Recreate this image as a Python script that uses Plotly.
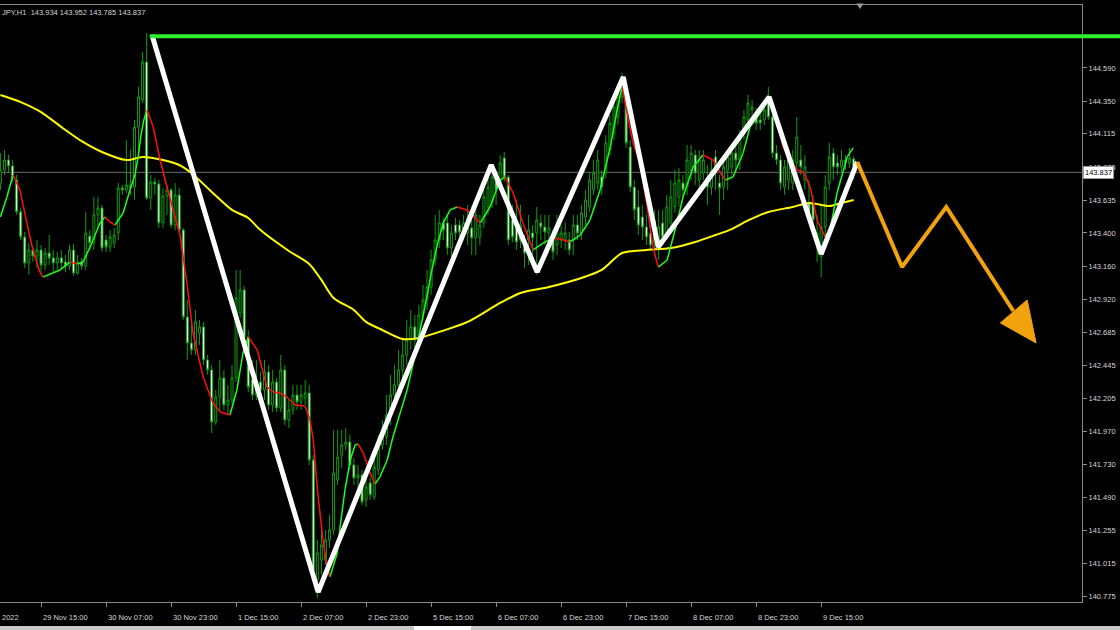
import plotly.graph_objects as go

symbol_text = "JPY,H1  143.934 143.952 143.785 143.837"

opens = [
    143.760, 143.854, 143.926, 143.883, 143.782, 143.552, 143.371, 143.183, 143.277, 143.234,
    143.277, 143.169, 143.255, 143.220, 143.183, 143.220, 143.191, 143.162, 143.277, 143.111,
    143.191, 143.162, 143.378, 143.327, 143.530, 143.580, 143.349, 143.299, 143.327, 143.400,
    143.724, 143.710, 143.724, 143.731, 144.164, 144.359, 144.633, 143.652, 143.768, 143.753,
    143.472, 143.666, 143.710, 143.457, 143.674, 143.421, 142.794, 142.606, 142.556, 142.678,
    142.722, 142.484, 142.412, 142.036, 142.217, 142.354, 142.159, 142.195, 142.354, 142.823,
    142.989, 142.650, 142.340, 142.231, 142.325, 142.267, 142.397, 142.159, 142.325, 142.137,
    142.412, 142.051, 142.123, 142.231, 142.181, 142.210, 142.246, 141.762, 140.897, 141.041,
    141.041, 141.186, 141.258, 141.618, 141.798, 141.870, 141.892, 141.726, 141.633, 141.654,
    141.474, 141.597, 141.496, 141.690, 141.870, 141.928, 142.087, 142.231, 142.304, 142.412,
    142.520, 142.628, 142.722, 142.628, 142.808, 142.916, 143.010, 143.205, 143.349, 143.472,
    143.472, 143.291, 143.457, 143.457, 143.421, 143.400, 143.436, 143.364, 143.371, 143.472,
    143.587, 143.623, 143.803, 143.760, 143.940, 143.803, 143.493, 143.493, 143.349, 143.299,
    143.349, 143.400, 143.400, 143.472, 143.443, 143.400, 143.371, 143.313, 143.349, 143.349,
    143.349, 143.349, 143.457, 143.400, 143.515, 143.587, 143.710, 143.760, 143.803, 143.832,
    143.998, 144.121, 144.236, 144.381, 144.431, 144.020, 143.731, 143.587, 143.515, 143.443,
    143.400, 143.327, 143.313, 143.472, 143.400, 143.472, 143.587, 143.660, 143.760, 143.731,
    143.854, 143.962, 143.782, 143.832, 143.803, 143.731, 143.948, 143.760, 143.731, 143.854,
    143.876, 143.976, 143.926, 144.121, 144.215, 144.287, 144.236, 144.215, 144.215, 144.381,
    144.236, 143.976, 143.926, 143.731, 143.782, 143.760, 143.904, 143.926, 143.782, 143.616,
    143.616, 143.327, 143.227, 143.443, 143.760, 143.976, 143.904, 143.876, 143.926, 143.904,
    143.934,
]

highs = [
    143.976, 143.998, 143.962, 143.926, 143.818, 143.580, 143.407, 143.327, 143.299, 143.349,
    143.313, 143.291, 143.385, 143.277, 143.263, 143.277, 143.241, 143.313, 143.320, 143.241,
    143.220, 143.552, 143.421, 143.660, 143.660, 143.602, 143.385, 143.421, 143.436, 143.760,
    143.746, 144.070, 143.998, 144.215, 144.453, 144.705, 144.842, 143.818, 143.796, 143.782,
    143.724, 143.746, 143.724, 143.760, 143.724, 143.436, 142.916, 142.787, 142.844, 142.772,
    142.758, 142.520, 142.448, 142.267, 142.484, 142.412, 142.304, 142.448, 143.133, 143.133,
    143.018, 142.700, 142.484, 142.484, 142.397, 142.484, 142.448, 142.412, 142.354, 142.520,
    142.448, 142.195, 142.304, 142.304, 142.304, 142.340, 142.304, 141.798, 141.186, 141.258,
    141.258, 141.366, 141.979, 141.979, 141.979, 141.993, 141.943, 141.777, 141.726, 141.690,
    141.633, 141.633, 141.798, 141.943, 142.051, 142.231, 142.376, 142.448, 142.556, 142.628,
    142.772, 142.844, 142.808, 142.880, 143.025, 143.133, 143.277, 143.530, 143.566, 143.508,
    143.530, 143.457, 143.508, 143.493, 143.530, 143.602, 143.493, 143.602, 143.530, 143.710,
    143.796, 143.890, 143.854, 143.962, 143.984, 143.818, 143.602, 143.638, 143.602, 143.385,
    143.530, 143.457, 143.587, 143.530, 143.530, 143.530, 143.421, 143.530, 143.457, 143.479,
    143.407, 143.530, 143.530, 143.602, 143.710, 143.840, 143.926, 143.998, 143.854, 144.106,
    144.251, 144.381, 144.467, 144.553, 144.467, 144.070, 143.782, 143.710, 143.602, 143.530,
    143.457, 143.566, 143.566, 143.566, 143.674, 143.782, 143.854, 143.868, 143.818, 144.034,
    144.034, 143.998, 143.998, 143.998, 143.890, 143.926, 143.998, 143.818, 143.926, 143.998,
    144.034, 144.034, 144.142, 144.287, 144.395, 144.359, 144.301, 144.287, 144.359, 144.453,
    144.272, 144.034, 143.962, 143.926, 143.998, 143.998, 144.236, 144.034, 143.962, 143.782,
    143.674, 143.530, 143.602, 143.818, 144.049, 144.013, 143.962, 143.998, 143.962, 144.013,
    143.952,
]

lows = [
    143.710, 143.818, 143.840, 143.768, 143.530, 143.349, 143.147, 143.097, 143.191, 143.147,
    143.119, 143.133, 143.169, 143.119, 143.133, 143.147, 143.119, 143.133, 143.090, 143.097,
    143.133, 143.133, 143.277, 143.277, 143.443, 143.263, 143.263, 143.263, 143.291, 143.349,
    143.674, 143.688, 143.674, 143.638, 143.948, 144.337, 143.638, 143.566, 143.674, 143.436,
    143.436, 143.530, 143.436, 143.421, 143.407, 142.772, 142.484, 142.520, 142.520, 142.592,
    142.448, 142.376, 141.957, 142.015, 142.123, 142.123, 142.087, 142.159, 142.325, 142.787,
    142.628, 142.253, 142.195, 142.195, 142.210, 142.195, 142.123, 142.109, 142.109, 142.109,
    142.015, 141.993, 142.087, 142.123, 142.123, 142.159, 141.726, 140.897, 140.767, 140.933,
    141.005, 141.128, 141.222, 141.582, 141.705, 141.835, 141.690, 141.582, 141.546, 141.438,
    141.424, 141.474, 141.474, 141.654, 141.835, 141.870, 142.015, 142.159, 142.253, 142.304,
    142.448, 142.556, 142.556, 142.592, 142.772, 142.844, 142.953, 143.169, 143.291, 143.349,
    143.241, 143.220, 143.349, 143.364, 143.349, 143.313, 143.241, 143.241, 143.313, 143.436,
    143.530, 143.580, 143.602, 143.710, 143.768, 143.313, 143.335, 143.277, 143.291, 143.147,
    143.169, 143.220, 143.097, 143.349, 143.313, 143.313, 143.205, 143.241, 143.291, 143.277,
    143.241, 143.241, 143.349, 143.349, 143.457, 143.552, 143.674, 143.710, 143.674, 143.796,
    143.962, 144.070, 144.178, 144.337, 144.013, 143.696, 143.493, 143.385, 143.349, 143.313,
    143.277, 143.277, 143.205, 143.313, 143.349, 143.421, 143.544, 143.587, 143.660, 143.674,
    143.782, 143.746, 143.674, 143.782, 143.602, 143.674, 143.710, 143.530, 143.638, 143.710,
    143.818, 143.840, 143.854, 144.070, 144.178, 144.215, 144.142, 144.142, 144.178, 144.215,
    143.940, 143.890, 143.710, 143.674, 143.710, 143.710, 143.868, 143.818, 143.710, 143.493,
    143.385, 143.191, 143.082, 143.385, 143.710, 143.782, 143.818, 143.840, 143.854, 143.868,
    143.785,
]

closes = [
    143.854, 143.926, 143.883, 143.796, 143.552, 143.371, 143.183, 143.277, 143.234, 143.277,
    143.169, 143.255, 143.220, 143.183, 143.220, 143.183, 143.162, 143.277, 143.111, 143.191,
    143.162, 143.400, 143.327, 143.530, 143.580, 143.291, 143.299, 143.371, 143.385, 143.724,
    143.710, 143.746, 143.746, 144.164, 144.381, 144.633, 143.652, 143.768, 143.753, 143.472,
    143.666, 143.710, 143.457, 143.674, 143.421, 142.794, 142.606, 142.556, 142.758, 142.722,
    142.484, 142.412, 142.036, 142.217, 142.354, 142.159, 142.195, 142.354, 142.931, 142.989,
    142.650, 142.289, 142.231, 142.325, 142.267, 142.397, 142.159, 142.325, 142.137, 142.412,
    142.051, 142.123, 142.231, 142.181, 142.231, 142.246, 141.762, 140.969, 141.092, 141.150,
    141.186, 141.258, 141.669, 141.784, 141.870, 141.892, 141.726, 141.633, 141.654, 141.460,
    141.568, 141.510, 141.712, 141.849, 141.928, 142.087, 142.231, 142.304, 142.412, 142.520,
    142.628, 142.722, 142.628, 142.808, 142.916, 143.010, 143.205, 143.349, 143.472, 143.421,
    143.291, 143.400, 143.400, 143.407, 143.472, 143.508, 143.364, 143.530, 143.457, 143.660,
    143.731, 143.803, 143.710, 143.904, 143.803, 143.349, 143.371, 143.335, 143.457, 143.255,
    143.421, 143.364, 143.493, 143.443, 143.407, 143.436, 143.263, 143.421, 143.400, 143.400,
    143.277, 143.457, 143.400, 143.544, 143.638, 143.782, 143.832, 143.926, 143.731, 144.049,
    144.193, 144.308, 144.410, 144.503, 144.049, 143.731, 143.566, 143.457, 143.443, 143.371,
    143.313, 143.493, 143.443, 143.371, 143.587, 143.660, 143.760, 143.782, 143.710, 143.926,
    143.976, 143.832, 143.926, 143.926, 143.731, 143.854, 143.832, 143.724, 143.876, 143.948,
    143.976, 143.926, 144.106, 144.236, 144.337, 144.308, 144.193, 144.193, 144.287, 144.236,
    143.976, 143.926, 143.760, 143.876, 143.926, 143.926, 144.092, 143.876, 143.876, 143.544,
    143.493, 143.400, 143.443, 143.731, 143.948, 143.876, 143.876, 143.926, 143.904, 143.940,
    143.837,
]

bar_index = list(range(len(closes)))

# x-axis labels (every 16 hourly bars)
tick_bars = [10, 26, 42, 58, 74, 90, 106, 122, 138, 154, 170, 186, 202]
tick_labels = ["29 Nov 15:00", "30 Nov 07:00", "30 Nov 23:00", "1 Dec 15:00",
               "2 Dec 07:00", "2 Dec 23:00", "5 Dec 15:00", "6 Dec 07:00",
               "6 Dec 23:00", "7 Dec 15:00", "8 Dec 07:00", "8 Dec 23:00",
               "9 Dec 15:00"]

price_ticks = [144.590, 144.350, 144.115, 143.875, 143.635, 143.400, 143.160,
               142.920, 142.685, 142.445, 142.205, 141.970, 141.730, 141.490,
               141.255, 141.015, 140.775]
price_labels = ["144.590", "144.350", "144.115", "143.875", "143.635", "143.400",
                "143.160", "142.920", "142.685", "142.445", "142.205", "141.970",
                "141.730", "141.490", "141.255", "141.015", "140.775"]

# slow moving average (yellow)
slow_idx = [0, 5, 10, 15, 20, 25, 31, 35, 40, 44, 47, 52, 57, 61, 64, 71, 76, 79, 82,
            87, 90, 94, 99, 103, 108, 115, 123, 128, 135, 143, 148, 153, 159, 165,
            171, 176, 180, 184, 189, 195, 199, 204, 207, 210]
slow_price = [144.395, 144.344, 144.272, 144.164, 144.062, 143.984, 143.926, 143.948,
              143.926, 143.890, 143.832, 143.696, 143.566, 143.508, 143.421, 143.270,
              143.176, 143.061, 142.931, 142.844, 142.758, 142.700, 142.635, 142.642,
              142.686, 142.758, 142.895, 142.967, 143.010, 143.075, 143.133, 143.255,
              143.277, 143.291, 143.335, 143.385, 143.428, 143.490, 143.551, 143.587,
              143.616, 143.594, 143.616, 143.638]

# fast smoothed average (green when rising, red when falling)
fast_idx = [0.0, 1.6, 3.1, 4.8, 6.5, 8.0, 9.7, 10.5, 12.9, 14.7, 17.1, 18.9, 20.3,
            22.1, 24.5, 25.7, 27.0, 28.2, 30.2, 31.9, 33.1, 33.9, 34.6, 35.3, 36.1,
            37.6, 39.3, 41.0, 42.5, 44.2, 45.9, 47.4, 49.9, 52.3, 54.1, 56.5, 58.2,
            59.7, 61.0, 63.2, 65.6, 67.1, 68.8, 70.5, 72.5, 75.0, 76.2, 77.0, 78.2,
            79.4, 80.4, 81.1, 82.9, 83.6, 84.8, 86.1, 87.3, 88.0, 89.3, 91.0, 92.2,
            93.4, 95.2, 96.6, 98.4, 100.1, 101.8, 103.3, 104.8, 106.2, 107.5, 109.0,
            110.7, 112.4, 114.9, 118.1, 120.5, 123.0, 124.2, 126.2, 128.6, 131.1,
            133.6, 136.0, 137.7, 140.2, 142.7, 145.1, 147.6, 150.1, 151.8, 153.0,
            155.7, 157.4, 159.2, 160.6, 161.9, 164.1, 166.5, 168.0, 170.5, 172.9,
            175.4, 177.9, 178.4, 180.3, 182.8, 184.5, 187.0, 189.0, 191.2, 192.6,
            194.4, 196.1, 197.6, 199.3, 201.0, 203.0, 204.2, 205.9, 208.4, 209.9]
fast_price = [143.515, 143.659, 143.818, 143.710, 143.472, 143.277, 143.118, 143.082,
              143.111, 143.133, 143.190, 143.176, 143.190, 143.299, 143.472, 143.515,
              143.479, 143.457, 143.544, 143.710, 143.818, 143.948, 144.106, 144.215,
              144.287, 144.164, 143.926, 143.731, 143.566, 143.385, 143.039, 142.678,
              142.361, 142.174, 142.109, 142.087, 142.267, 142.534, 142.650, 142.556,
              142.289, 142.253, 142.246, 142.217, 142.159, 142.152, 142.051, 141.907,
              141.496, 141.186, 140.991, 140.919, 141.092, 141.279, 141.546, 141.762,
              141.871, 141.878, 141.813, 141.669, 141.589, 141.640, 141.762, 141.928,
              142.102, 142.267, 142.484, 142.700, 142.916, 143.133, 143.313, 143.472,
              143.566, 143.587, 143.566, 143.472, 143.587, 143.782, 143.803, 143.688,
              143.472, 143.277, 143.327, 143.364, 143.356, 143.335, 143.385, 143.493,
              143.710, 144.020, 144.287, 144.453, 144.049, 143.904, 143.587, 143.299,
              143.154, 143.205, 143.472, 143.659, 143.876, 143.962, 143.926, 143.803,
              143.782, 143.803, 143.977, 144.164, 144.265, 144.359, 144.215, 144.020,
              143.926, 143.854, 143.840, 143.731, 143.493, 143.371, 143.421, 143.688,
              143.948, 144.013]

# hand-drawn zigzag (white) and projected path (orange)
zz_idx = [37.3, 78.2, 120.8, 132.1, 153.3, 161.9, 189.2, 202.0, 210.9]
zz_price = [144.828, 140.810, 143.890, 143.118, 144.525, 143.299, 144.380, 143.248, 143.912]
proj_idx = [210.9, 221.9, 232.8, 249.3]
proj_price = [143.912, 143.154, 143.587, 142.837]
head_idx = [246.1, 252.7, 254.9, 246.1]
head_price = [142.751, 142.916, 142.606, 142.751]

resistance_price = 144.818
resistance_start = 36.8
last_price = 143.837

X_RANGE = [-0.1, 266.2]
Y_RANGE = [140.738, 145.044]

CANDLE_GREEN = "#139a13"
FONT = "Liberation Sans"
TXT = "#d6d6d6"
AXIS = "#8a8a8a"

fig = go.Figure()

fig.add_trace(go.Candlestick(
    x=bar_index, open=opens, high=highs, low=lows, close=closes,
    increasing=dict(line=dict(color=CANDLE_GREEN, width=1), fillcolor="black"),
    decreasing=dict(line=dict(color=CANDLE_GREEN, width=1), fillcolor="white"),
    whiskerwidth=0, hoverinfo="skip",
))

fig.add_trace(go.Scatter(
    x=slow_idx, y=slow_price, mode="lines",
    line=dict(color="#ffff00", width=2, shape="spline", smoothing=0.8),
    hoverinfo="skip",
))

gx, gy, rx, ry = [], [], [], []
for k in range(len(fast_idx) - 1):
    sx = [fast_idx[k], fast_idx[k + 1], None]
    sy = [fast_price[k], fast_price[k + 1], None]
    if fast_price[k + 1] >= fast_price[k]:
        gx += sx
        gy += sy
    else:
        rx += sx
        ry += sy

fig.add_trace(go.Scatter(x=gx, y=gy, mode="lines",
                         line=dict(color="#1aff1a", width=1.5), hoverinfo="skip"))
fig.add_trace(go.Scatter(x=rx, y=ry, mode="lines",
                         line=dict(color="#ff1010", width=1.5), hoverinfo="skip"))

fig.add_trace(go.Scatter(x=zz_idx, y=zz_price, mode="lines",
                         line=dict(color="white", width=5), hoverinfo="skip"))
fig.add_trace(go.Scatter(x=proj_idx, y=proj_price, mode="lines",
                         line=dict(color="#f2a20c", width=4), hoverinfo="skip"))
fig.add_trace(go.Scatter(x=head_idx, y=head_price, mode="lines", fill="toself",
                         fillcolor="#f2a20c", line=dict(color="#f2a20c", width=1),
                         hoverinfo="skip"))

shapes = [
    # current price line
    dict(type="line", xref="paper", yref="y", x0=0, x1=1, y0=last_price, y1=last_price,
         line=dict(color="#6a6a6a", width=1), layer="below"),
    # resistance line inside the plot
    dict(type="line", xref="x", yref="y", x0=resistance_start, x1=X_RANGE[1],
         y0=resistance_price, y1=resistance_price, line=dict(color="#2cf02c", width=4)),
    # resistance line continuing over the price scale
    dict(type="line", xref="paper", yref="y", x0=1, x1=1120 / 1082,
         y0=resistance_price, y1=resistance_price, line=dict(color="#2cf02c", width=4)),
    # bottom window band
    dict(type="rect", xref="paper", yref="paper", x0=0, x1=1120 / 1082,
         y0=-0.0402, y1=-0.047, fillcolor="#c8c8c8", line=dict(width=0)),
    dict(type="rect", xref="paper", yref="paper", x0=414 / 1082, x1=471 / 1082,
         y0=-0.0402, y1=-0.047, fillcolor="#ffffff", line=dict(width=0)),
    # chart shift marker
    dict(type="path", xref="paper", yref="paper",
         path="M 0.7915 1.0025 L 0.7980 1.0025 L 0.7948 0.9935 Z",
         fillcolor="#9a9a9a", line=dict(width=0)),
]

annotations = [
    dict(xref="paper", yref="paper", x=0, y=1, xanchor="left", yanchor="top",
         yshift=-1, text=symbol_text, showarrow=False,
         font=dict(family=FONT, size=7.5, color=TXT)),
    dict(xref="paper", yref="paper", x=0, y=0, xanchor="left", yanchor="top",
         yshift=-9, text="2022", showarrow=False,
         font=dict(family=FONT, size=7.5, color=TXT)),
    dict(xref="paper", yref="y", x=1, y=last_price, xanchor="left", yanchor="middle",
         xshift=1, text="143.837", showarrow=False, bgcolor="white",
         bordercolor="#9a9a9a", borderwidth=1, borderpad=1,
         font=dict(family=FONT, size=7.5, color="black")),
]
for b, lab in zip(tick_bars, tick_labels):
    annotations.append(dict(xref="x", yref="paper", x=b, y=0, xanchor="left",
                            yanchor="top", yshift=-9, text=lab, showarrow=False,
                            font=dict(family=FONT, size=7.5, color=TXT)))

fig.update_layout(
    width=1120, height=630,
    margin=dict(l=0, r=38, t=5, b=28),
    paper_bgcolor="black", plot_bgcolor="black",
    showlegend=False, hovermode=False,
    shapes=shapes, annotations=annotations,
    xaxis=dict(range=X_RANGE, showgrid=False, zeroline=False, showline=True,
               linecolor=AXIS, linewidth=1, mirror=True, ticks="outside", ticklen=4,
               tickcolor=AXIS, tickvals=tick_bars, showticklabels=False,
               rangeslider=dict(visible=False)),
    yaxis=dict(range=Y_RANGE, side="right", showgrid=False, zeroline=False,
               showline=True, linecolor=AXIS, linewidth=1, ticks="outside", ticklen=4,
               tickcolor=AXIS, tickvals=price_ticks, ticktext=price_labels,
               tickfont=dict(family=FONT, size=7.5, color=TXT)),
)

fig.write_html("out.html", config={"displayModeBar": False},
               post_script="document.body.style.margin='0';")
